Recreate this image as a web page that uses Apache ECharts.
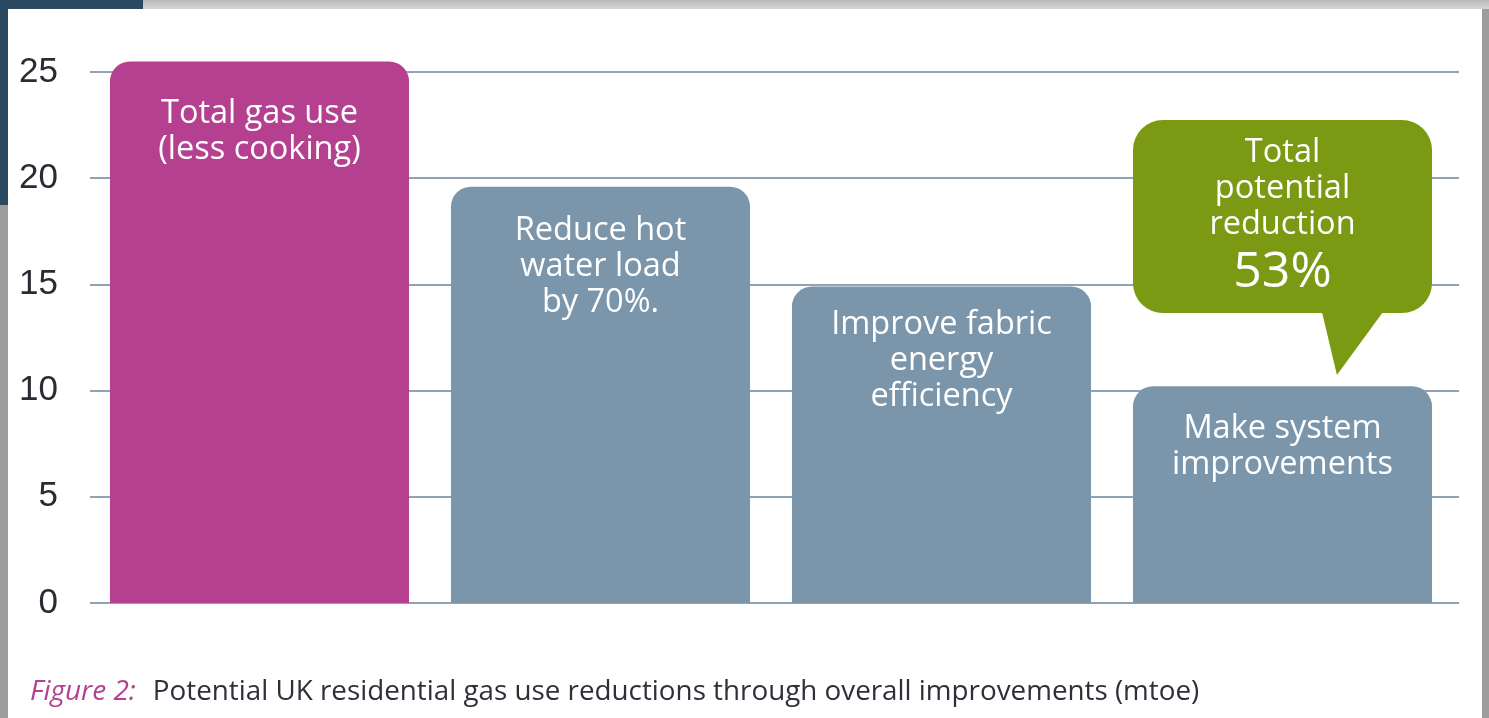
<!DOCTYPE html>
<html>
<head>
<meta charset="utf-8">
<title>Potential UK residential gas use reductions</title>
<script src="https://cdn.jsdelivr.net/npm/echarts@6/dist/echarts.min.js"></script>
<style>
  html, body { margin: 0; padding: 0; }
  body { width: 1489px; height: 718px; position: relative; overflow: hidden; background: #9d9d9d; }
  #topband { position: absolute; left: 0; top: 0; width: 1489px; height: 9px;
             background: linear-gradient(#b8b8b8, #d6d6d6); }
  #corner { position: absolute; left: 0; top: 0; width: 143px; height: 205px; background: #2b4960; }
  #page { position: absolute; left: 8px; top: 9px; width: 1474px; height: 709px; background: #ffffff; }
  #chart { position: absolute; left: 0; top: 0; width: 1489px; height: 718px; }
</style>
</head>
<body>
<div id="topband"></div>
<div id="corner"></div>
<div id="page"></div>
<div id="chart"></div>
<script>
// Gas use steps, mtoe
const categories = [
  'Total gas use\n(less cooking)',
  'Reduce hot\nwater load\nby 70%.',
  'Improve fabric\nenergy\nefficiency',
  'Make system\nimprovements'
];
const values = [25.5, 19.6, 14.9, 10.2];
const yTicks = { min: 0, max: 25, interval: 5 };

// Callout above the last bar: [category index, top, bottom, pointer tip] in mtoe
const calloutText = ['Total', 'potential', 'reduction'];
const calloutFigure = '53%';
const calloutSpan = [[3, 22.74, 13.65, 10.73]];

const barColors = ['#b5408f', '#7b96ab', '#7b96ab', '#7b96ab'];
const labelGaps = [34, 26, 20, 24];

const chart = echarts.init(document.getElementById('chart'), null, { renderer: 'canvas' });

const BAR_SHARE = 0.877;
const LABEL_FONT = '"Open Sans", Lato, sans-serif';
const LABEL_SIZE = 32.5;

chart.setOption({
  backgroundColor: 'transparent',
  animation: false,
  title: {
    left: 25,
    top: 673,
    text: '{fig|Figure 2:}{cap|Potential UK residential gas use reductions through overall improvements (mtoe)}',
    textStyle: {
      fontWeight: 'normal',
      rich: {
        fig: { fontFamily: LABEL_FONT, fontStyle: 'italic', fontWeight: 'normal', fontSize: 28, color: '#b5408f', padding: [0, 17, 0, 0] },
        cap: { fontFamily: LABEL_FONT, fontWeight: 'normal', fontSize: 27.8, color: '#2f2f3a' }
      }
    }
  },
  // grid 0 carries the tick labels and the full-width rules; grid 1 holds the bars
  grid: [
    { left: 90, right: 30, top: 72, bottom: 115, containLabel: false },
    { left: 89, right: 36, top: 72, bottom: 115, containLabel: false }
  ],
  xAxis: [
    { type: 'category', gridIndex: 0, data: categories, show: false },
    { type: 'category', gridIndex: 1, data: categories, show: false }
  ],
  yAxis: [
    {
      type: 'value',
      gridIndex: 0,
      min: yTicks.min,
      max: yTicks.max,
      interval: yTicks.interval,
      axisLine: { show: false },
      axisTick: { show: false },
      axisLabel: {
        margin: 32,
        fontFamily: '"Liberation Sans", Arial, sans-serif',
        fontSize: 35,
        color: '#2b2b33'
      },
      splitLine: { lineStyle: { color: '#8fa3b4', width: 2 } }
    },
    {
      type: 'value',
      gridIndex: 1,
      min: yTicks.min,
      max: yTicks.max,
      interval: yTicks.interval,
      show: false,
      splitLine: { show: false }
    }
  ],
  series: [
    {
      type: 'bar',
      xAxisIndex: 1,
      yAxisIndex: 1,
      clip: false,
      barWidth: (BAR_SHARE * 100) + '%',
      data: values.map((v, i) => ({
        value: v,
        itemStyle: { color: barColors[i], borderRadius: [20, 20, 0, 0] },
        label: { distance: labelGaps[i] }
      })),
      label: {
        show: true,
        position: 'insideTop',
        formatter: (p) => categories[p.dataIndex],
        fontFamily: LABEL_FONT,
        fontSize: LABEL_SIZE,
        lineHeight: 36,
        color: '#ffffff',
        align: 'center'
      },
      z: 3
    },
    {
      type: 'custom',
      xAxisIndex: 1,
      yAxisIndex: 1,
      data: calloutSpan,
      clip: false,
      z: 5,
      renderItem: (params, api) => {
        const idx = api.value(0);
        const topPt = api.coord([idx, api.value(1)]);
        const botPt = api.coord([idx, api.value(2)]);
        const tipPt = api.coord([idx, api.value(3)]);
        const w = api.size([1, 0])[0] * BAR_SHARE;
        const x0 = topPt[0] - w / 2;
        const green = '#7a9a13';
        const children = [
          {
            type: 'rect',
            shape: { x: x0, y: topPt[1], width: w, height: botPt[1] - topPt[1], r: 30 },
            style: { fill: green }
          },
          {
            type: 'polygon',
            shape: {
              points: [
                [x0 + w * 0.632, botPt[1] - 1],
                [x0 + w * 0.836, botPt[1] - 1],
                [x0 + w * 0.682, tipPt[1]]
              ]
            },
            style: { fill: green }
          }
        ];
        const cx = topPt[0];
        calloutText.forEach((t, k) => {
          children.push({
            type: 'text',
            style: {
              text: t, x: cx, y: topPt[1] + 33 + k * 36,
              align: 'center', verticalAlign: 'middle',
              font: LABEL_SIZE + 'px ' + LABEL_FONT, fill: '#ffffff'
            }
          });
        });
        children.push({
          type: 'text',
          style: {
            text: calloutFigure, x: cx, y: topPt[1] + 153,
            align: 'center', verticalAlign: 'middle',
            font: '50px ' + LABEL_FONT, fill: '#ffffff'
          }
        });
        return { type: 'group', children };
      }
    }
  ]
});
</script>
</body>
</html>
